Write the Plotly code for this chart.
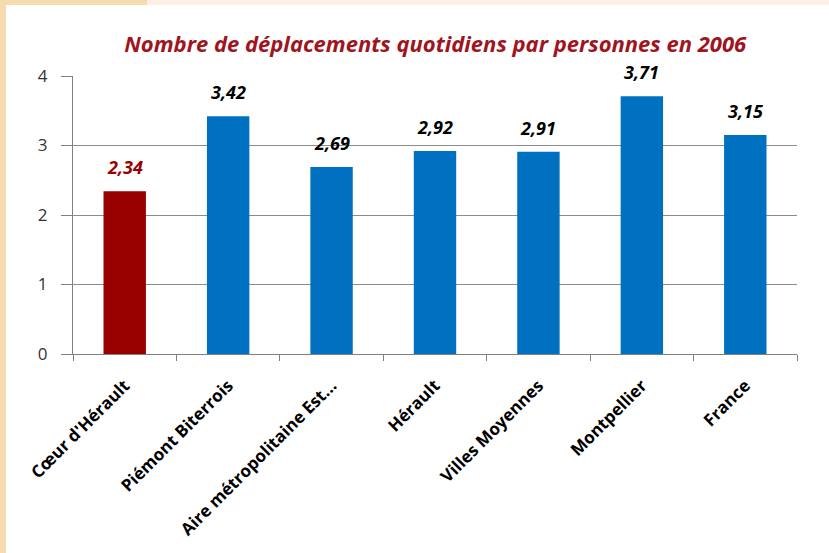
import plotly.graph_objects as go

categories = ["Cœur d'Hérault", "Piémont Biterrois", "Aire métropolitaine Est...",
              "Hérault", "Villes Moyennes", "Montpellier", "France"]
values = [2.34, 3.42, 2.69, 2.92, 2.91, 3.71, 3.15]
value_labels = ["2,34", "3,42", "2,69", "2,92", "2,91", "3,71", "3,15"]
bar_colors = ["#990000"] + ["#0070c0"] * 6
label_colors = ["#990000"] + ["#000000"] * 6

fig = go.Figure()
fig.add_trace(go.Bar(
    x=categories, y=values,
    marker=dict(color=bar_colors, line=dict(width=0)),
    hovertemplate="%{x}: %{y:.2f}<extra></extra>",
))

# value labels sit a bit higher above the bars than plotly's own outside text
for cat, val, lab, col in zip(categories, values, value_labels, label_colors):
    fig.add_annotation(x=cat, y=val, text="<b><i>" + lab + "</i></b>",
                       showarrow=False, yanchor="bottom", yshift=10,
                       font=dict(family="Open Sans", size=18, color=col))

fig.update_layout(
    width=829, height=553,
    margin=dict(l=73, r=32, t=76, b=199),
    paper_bgcolor="white", plot_bgcolor="white",
    separators=",.",
    showlegend=False,
    bargap=0.59,
    title=dict(text="<b><i>Nombre de déplacements quotidiens par personnes en 2006</i></b>",
               x=0.525, xanchor="center", y=0.919, yanchor="middle",
               font=dict(family="Open Sans", size=22, color="#a0141e")),
    font=dict(family="Open Sans"),
)

fig.update_xaxes(
    tickangle=-45, tickson="boundaries", ticks="outside", ticklen=6,
    tickcolor="#808080", showline=True, linecolor="#808080", linewidth=1,
    tickfont=dict(family="Open Sans", size=17, color="#000000"),
    tickprefix="<b>", ticksuffix="</b>", ticklabelstandoff=14,
)
fig.update_yaxes(
    range=[0, 4], dtick=1, ticks="outside", ticklen=11, tickcolor="#808080",
    showline=True, linecolor="#808080", linewidth=1,
    showgrid=True, gridcolor="#8c8c8c", gridwidth=1,
    zeroline=False, ticklabelstandoff=10,
    tickfont=dict(family="Open Sans", size=17, color="#333333"),
)

# cream decoration along the left and top edges
fig.add_shape(type="rect", xref="paper", yref="paper", x0=-73/724, x1=-67/724,
              y0=-199/278, y1=1 + 76/278, fillcolor="#f7dbb0", line_width=0, layer="below")
fig.add_shape(type="rect", xref="paper", yref="paper", x0=-73/724, x1=(147-73)/724,
              y0=1 + 71/278, y1=1 + 76/278, fillcolor="#f7dbb0", line_width=0, layer="below")
fig.add_shape(type="rect", xref="paper", yref="paper", x0=(147-73)/724, x1=1 + 32/724,
              y0=1 + 71/278, y1=1 + 76/278, fillcolor="#fdeee6", line_width=0, layer="below")

fig.write_html("out.html", config={"displayModeBar": False},
               post_script="document.body.style.margin='0';")
